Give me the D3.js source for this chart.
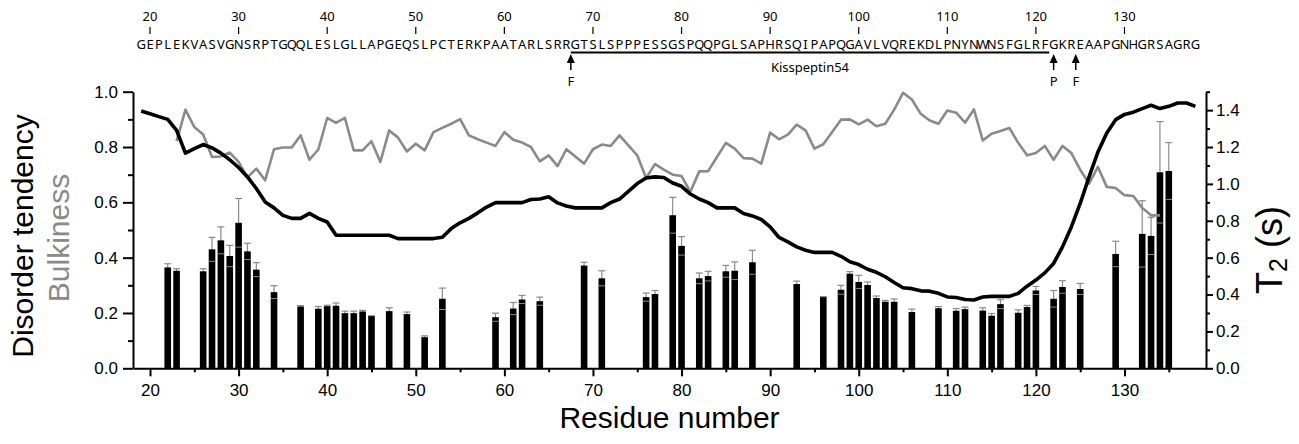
<!DOCTYPE html>
<html>
<head>
<meta charset="utf-8">
<script src="https://cdn.jsdelivr.net/npm/d3@7"></script>
<style>
  body { margin: 0; background: #fff; }
  svg { display: block; }
</style>
</head>
<body>
<div id="chart"></div>
<script>
// KISS1 sequence, first letter is residue 19
const sequence = "GEPLEKVASVGNSRPTGQQLESLGLLAPGEQSLPCTERKPAATARLSRRGTSLSPPPESSGSPQQPGLSAPHRSQIPAPQGAVLVQREKDLPNYNWNSFGLRFGKREAAPGNHGRSAGRG";
const seqStart = 19;
const seqTicks = [20, 30, 40, 50, 60, 70, 80, 90, 100, 110, 120, 130];

// disorder tendency (black line), residues 19..138
const disorderStart = 19;
const disorder = [
  0.930, 0.920, 0.910, 0.900, 0.860, 0.778, 0.794, 0.809, 0.797, 0.778,
  0.754, 0.726, 0.692, 0.650, 0.601, 0.580, 0.553, 0.542, 0.542, 0.560,
  0.542, 0.529, 0.481, 0.481, 0.481, 0.481, 0.481, 0.481, 0.481, 0.469,
  0.469, 0.469, 0.469, 0.469, 0.474, 0.505, 0.526, 0.542, 0.562, 0.583,
  0.599, 0.599, 0.599, 0.599, 0.610, 0.612, 0.620, 0.598, 0.587, 0.580,
  0.580, 0.580, 0.580, 0.599, 0.612, 0.640, 0.668, 0.688, 0.692, 0.690,
  0.670, 0.658, 0.630, 0.612, 0.599, 0.580, 0.580, 0.580, 0.560, 0.551,
  0.538, 0.511, 0.473, 0.457, 0.439, 0.427, 0.419, 0.419, 0.419, 0.405,
  0.385, 0.375, 0.358, 0.347, 0.331, 0.310, 0.291, 0.288, 0.280, 0.279,
  0.271, 0.258, 0.256, 0.249, 0.247, 0.258, 0.260, 0.260, 0.260, 0.271,
  0.297, 0.319, 0.345, 0.379, 0.439, 0.511, 0.596, 0.692, 0.782, 0.851,
  0.899, 0.918, 0.926, 0.939, 0.951, 0.939, 0.947, 0.959, 0.959, 0.947
];

// bulkiness (grey line), residues 23..134
const bulkStart = 23;
const bulkiness = [
  0.821, 0.935, 0.872, 0.845, 0.764, 0.766, 0.780, 0.746, 0.690, 0.722,
  0.680, 0.792, 0.798, 0.798, 0.842, 0.754, 0.791, 0.905, 0.887, 0.905,
  0.788, 0.788, 0.821, 0.746, 0.860, 0.834, 0.784, 0.812, 0.788, 0.854,
  0.869, 0.884, 0.901, 0.842, 0.828, 0.816, 0.804, 0.854, 0.826, 0.816,
  0.800, 0.748, 0.770, 0.731, 0.792, 0.766, 0.740, 0.792, 0.809, 0.804,
  0.842, 0.806, 0.770, 0.688, 0.738, 0.718, 0.700, 0.695, 0.638, 0.712,
  0.713, 0.764, 0.815, 0.794, 0.760, 0.758, 0.740, 0.852, 0.828, 0.845,
  0.881, 0.860, 0.794, 0.810, 0.854, 0.899, 0.900, 0.882, 0.899, 0.875,
  0.884, 0.935, 0.996, 0.972, 0.920, 0.896, 0.884, 0.932, 0.924, 0.888,
  0.936, 0.824, 0.848, 0.858, 0.869, 0.815, 0.770, 0.778, 0.804, 0.754,
  0.804, 0.778, 0.718, 0.668, 0.728, 0.656, 0.652, 0.626, 0.623, 0.580,
  0.553, 0.553
];

// T2 relaxation (bars, right axis)
const t2Residues = [22, 23, 26, 27, 28, 29, 30, 31, 32, 34, 37, 39, 40, 41, 42, 43, 44, 45, 47, 49,
  51, 53, 59, 61, 62, 64, 69, 71, 76, 77, 79, 80, 82, 83, 85, 86, 88, 93, 96, 98,
  99, 100, 101, 102, 103, 104, 106, 109, 111, 112, 114, 115, 116, 118, 119, 120, 122, 123, 125, 129,
  132, 133, 134, 135];
const t2Values = [0.547, 0.529, 0.526, 0.645, 0.694, 0.609, 0.789, 0.634, 0.535, 0.413, 0.335, 0.323, 0.337, 0.339, 0.299, 0.299, 0.308, 0.283, 0.310, 0.294,
  0.169, 0.377, 0.277, 0.324, 0.373, 0.364, 0.557, 0.488, 0.386, 0.403, 0.830, 0.664, 0.488, 0.500, 0.526, 0.529, 0.575, 0.457, 0.386, 0.426,
  0.513, 0.468, 0.452, 0.381, 0.361, 0.361, 0.305, 0.326, 0.312, 0.321, 0.313, 0.285, 0.348, 0.301, 0.332, 0.422, 0.377, 0.441, 0.430, 0.620,
  0.729, 0.718, 1.063, 1.070];
const t2Errors = [0.020, 0.011, 0.014, 0.065, 0.073, 0.058, 0.132, 0.044, 0.038, 0.035, 0.005, 0.012, 0.005, 0.015, 0.011, 0.011, 0.006, 0.002, 0.018, 0.011,
  0.007, 0.058, 0.022, 0.033, 0.022, 0.022, 0.018, 0.041, 0.022, 0.019, 0.097, 0.050, 0.029, 0.026, 0.032, 0.048, 0.065, 0.016, 0.003, 0.024,
  0.011, 0.036, 0.016, 0.011, 0.007, 0.015, 0.016, 0.009, 0.012, 0.011, 0.015, 0.012, 0.024, 0.016, 0.009, 0.022, 0.045, 0.034, 0.030, 0.069,
  0.180, 0.101, 0.275, 0.154];

const cleavage = [{ pos: 67.5, label: "F" }, { pos: 122, label: "P" }, { pos: 124.5, label: "F" }];
const kp54Range = [67.5, 121.5];
const kp54Label = "Kisspeptin54";

const width = 1299, height = 444;
const margin = { top: 91.7, right: 93, bottom: 75.7, left: 133 };
const plotBottom = height - margin.bottom;
const plotRight = width - margin.right;
const axisFont = "'Liberation Sans', Arial, sans-serif";
const seqFont = "'Noto Sans', 'Open Sans', sans-serif";
const grey = "#8a8a8a";

const x = d3.scaleLinear().domain([18.08, 139.2]).range([margin.left, plotRight]);
const yL = d3.scaleLinear().domain([0, 1]).range([plotBottom, margin.top]);
const yR = d3.scaleLinear().domain([0, 1.5]).range([plotBottom, margin.top]);

const svg = d3.select("#chart").append("svg")
  .attr("width", width)
  .attr("height", height)
  .style("background", "#fff");

// --- bars with error bars ---
const bars = t2Residues.map((r, i) => ({ r, v: t2Values[i], e: t2Errors[i] }));
const barW = 6.6;
const capW = 7;

const errG = svg.append("g").attr("stroke", grey).attr("stroke-width", 1.2);
errG.selectAll("line.v")
  .data(bars)
  .enter().append("line")
  .attr("class", "v")
  .attr("x1", d => x(d.r)).attr("x2", d => x(d.r))
  .attr("y1", d => yR(d.v - d.e)).attr("y2", d => yR(d.v + d.e));
errG.selectAll("line.cap")
  .data(bars)
  .enter().append("line")
  .attr("class", "cap")
  .attr("x1", d => x(d.r) - capW / 2).attr("x2", d => x(d.r) + capW / 2)
  .attr("y1", d => yR(d.v + d.e)).attr("y2", d => yR(d.v + d.e));

svg.append("g").selectAll("rect")
  .data(bars)
  .enter().append("rect")
  .attr("x", d => x(d.r) - barW / 2)
  .attr("width", barW)
  .attr("y", d => yR(d.v))
  .attr("height", d => yR(0) - yR(d.v))
  .attr("fill", "#000");

// lower caps show faintly on top of the bars
svg.append("g").attr("stroke", grey).attr("stroke-width", 1)
  .selectAll("line")
  .data(bars.filter(d => d.e > 0.02))
  .enter().append("line")
  .attr("x1", d => x(d.r) - barW / 2).attr("x2", d => x(d.r) + barW / 2)
  .attr("y1", d => yR(d.v - d.e)).attr("y2", d => yR(d.v - d.e));

// --- lines ---
const line = d3.line().x(d => x(d[0])).y(d => yL(d[1]));
svg.append("path")
  .datum(bulkiness.map((v, i) => [bulkStart + i, v]))
  .attr("fill", "none")
  .attr("stroke", grey)
  .attr("stroke-width", 2.6)
  .attr("stroke-linejoin", "round")
  .attr("d", line);
svg.append("path")
  .datum(disorder.map((v, i) => [disorderStart + i, v]))
  .attr("fill", "none")
  .attr("stroke", "#000")
  .attr("stroke-width", 3.6)
  .attr("stroke-linejoin", "round")
  .attr("d", line);

// --- axes ---
function styleAxis(g, size) {
  g.attr("font-family", axisFont).attr("font-size", size);
  g.select(".domain").attr("stroke-width", 2);
  g.selectAll(".tick line").attr("stroke-width", 2);
}

svg.append("g")
  .attr("transform", `translate(${margin.left},0)`)
  .call(d3.axisLeft(yL).tickValues(d3.range(0.1, 1.0, 0.2)).tickSize(5).tickFormat(""))
  .call(g => { g.select(".domain").remove(); g.selectAll(".tick line").attr("stroke-width", 2); });
svg.append("g")
  .attr("transform", `translate(${margin.left},0)`)
  .call(d3.axisLeft(yL).tickValues([0, 0.2, 0.4, 0.6, 0.8, 1.0]).tickSize(10).tickSizeOuter(0).tickPadding(5).tickFormat(d3.format(".1f")))
  .call(g => styleAxis(g, 17));

svg.append("g")
  .attr("transform", `translate(${plotRight},0)`)
  .call(d3.axisRight(yR).tickValues(d3.range(0.1, 1.6, 0.2)).tickSize(4).tickFormat(""))
  .call(g => { g.select(".domain").remove(); g.selectAll(".tick line").attr("stroke-width", 2); });
svg.append("g")
  .attr("transform", `translate(${plotRight},0)`)
  .call(d3.axisRight(yR).tickValues([0, 0.2, 0.4, 0.6, 0.8, 1.0, 1.2, 1.4]).tickSize(7).tickSizeOuter(0).tickPadding(3).tickFormat(d3.format(".1f")))
  .call(g => styleAxis(g, 17));

svg.append("g")
  .attr("transform", `translate(0,${plotBottom})`)
  .call(d3.axisBottom(x).tickValues(d3.range(25, 140, 10)).tickSize(4).tickFormat(""))
  .call(g => { g.select(".domain").remove(); g.selectAll(".tick line").attr("stroke-width", 2); });
svg.append("g")
  .attr("transform", `translate(0,${plotBottom})`)
  .call(d3.axisBottom(x).tickValues(d3.range(20, 131, 10)).tickSize(8).tickSizeOuter(0).tickPadding(8))
  .call(g => styleAxis(g, 17));

// --- axis titles ---
svg.append("text")
  .attr("transform", "translate(33,236) rotate(-90)")
  .attr("text-anchor", "middle")
  .attr("font-family", axisFont)
  .attr("font-size", 30)
  .attr("fill", "#000")
  .text("Disorder tendency");
svg.append("text")
  .attr("transform", "translate(69,238) rotate(-90)")
  .attr("text-anchor", "middle")
  .attr("font-family", axisFont)
  .attr("font-size", 30)
  .attr("fill", grey)
  .text("Bulkiness");
svg.append("text")
  .attr("x", (margin.left + plotRight) / 2)
  .attr("y", 428)
  .attr("text-anchor", "middle")
  .attr("font-family", axisFont)
  .attr("font-size", 30)
  .attr("fill", "#000")
  .text("Residue number");
const t2Title = svg.append("text")
  .attr("transform", "translate(1282,250) rotate(-90)")
  .attr("text-anchor", "middle")
  .attr("font-family", axisFont)
  .attr("font-size", 36)
  .attr("fill", "#000");
t2Title.append("tspan").text("T");
t2Title.append("tspan").attr("font-size", 25).attr("dy", 5).text("2");
t2Title.append("tspan").attr("dy", -5).text(" (s)");

// --- sequence header ---
const seqG = svg.append("g").attr("font-family", seqFont).attr("fill", "#000");
seqG.selectAll("text.aa")
  .data(sequence.split("").map((c, i) => ({ c, r: seqStart + i })))
  .enter().append("text")
  .attr("class", "aa")
  .attr("x", d => x(d.r))
  .attr("y", 49)
  .attr("text-anchor", "middle")
  .attr("font-size", 13)
  .text(d => d.c);
seqG.selectAll("text.num")
  .data(seqTicks)
  .enter().append("text")
  .attr("class", "num")
  .attr("x", d => x(d))
  .attr("y", 21)
  .attr("text-anchor", "middle")
  .attr("font-size", 13)
  .text(d => d);
seqG.selectAll("line.tick")
  .data(seqTicks)
  .enter().append("line")
  .attr("class", "tick")
  .attr("x1", d => x(d)).attr("x2", d => x(d))
  .attr("y1", 27).attr("y2", 34)
  .attr("stroke", "#000").attr("stroke-width", 1.2);

seqG.append("line")
  .attr("x1", x(kp54Range[0])).attr("x2", x(kp54Range[1]))
  .attr("y1", 52.5).attr("y2", 52.5)
  .attr("stroke", "#000").attr("stroke-width", 2);
seqG.append("text")
  .attr("x", (x(kp54Range[0]) + x(kp54Range[1])) / 2)
  .attr("y", 72)
  .attr("text-anchor", "middle")
  .attr("font-size", 13)
  .text(kp54Label);

const arrows = seqG.selectAll("g.arrow")
  .data(cleavage)
  .enter().append("g")
  .attr("class", "arrow")
  .attr("transform", d => `translate(${x(d.pos)},0)`);
arrows.append("line")
  .attr("x1", 0).attr("x2", 0).attr("y1", 60).attr("y2", 70)
  .attr("stroke", "#000").attr("stroke-width", 1.5);
arrows.append("path")
  .attr("d", "M0,54L4,63L-4,63Z")
  .attr("fill", "#000");
arrows.append("text")
  .attr("y", 86)
  .attr("text-anchor", "middle")
  .attr("font-size", 13)
  .text(d => d.label);
</script>
</body>
</html>
